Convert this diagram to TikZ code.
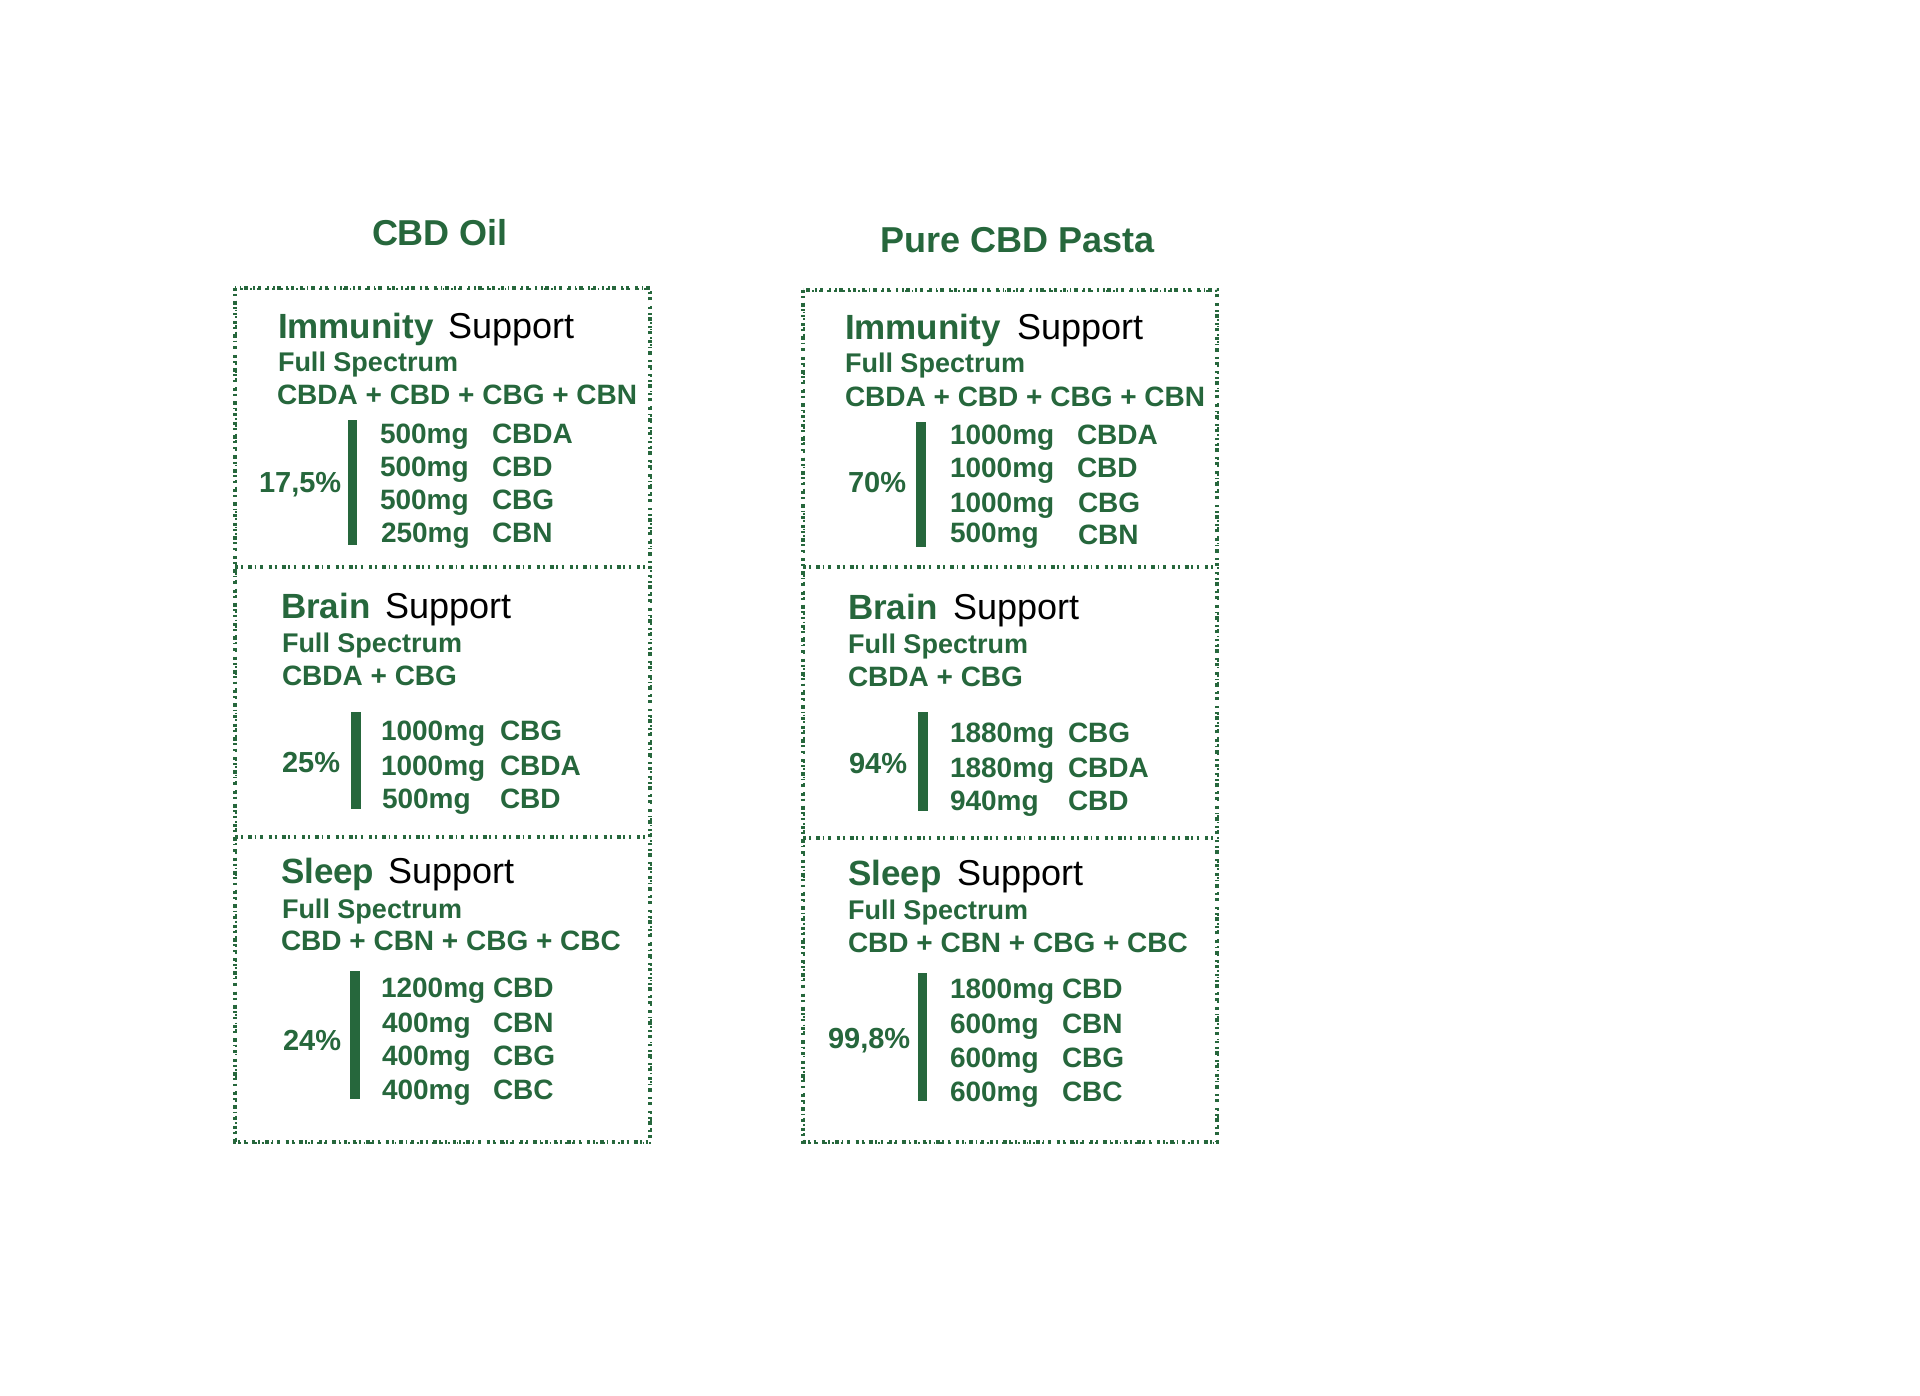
\documentclass[tikz,border=0pt]{standalone}
\usepackage{fontspec}
\setmainfont{Liberation Sans}
\definecolor{leaf}{RGB}{38,103,60}
\tikzset{
  x=1pt, y=-1pt,
  txt/.style={inner sep=0pt, outer sep=0pt, anchor=base west},
  ttl/.style={inner sep=0pt, anchor=base, text=leaf, font=\fontsize{36}{40}\selectfont\bfseries},
  head/.style={txt, text=leaf, font=\fontsize{35}{40}\selectfont\bfseries},
  sup/.style={txt, text=black, font=\fontsize{36}{40}\selectfont},
  fs/.style={txt, text=leaf, font=\fontsize{27}{30}\selectfont\bfseries},
  combo/.style={txt, text=leaf, font=\fontsize{28}{30}\selectfont\bfseries},
  pct/.style={txt, text=leaf, font=\fontsize{29}{30}\selectfont\bfseries},
  row/.style={txt, text=leaf, font=\fontsize{28}{30}\selectfont\bfseries},
  bar/.style={fill=leaf, draw=none},
  speckA/.style={draw=leaf, line width=3.2pt, dash pattern=on 3pt off 3pt on 2pt off 5pt on 4pt off 2.5pt on 1.5pt off 4pt on 2.5pt off 6pt},
  speckB/.style={draw=leaf, line width=2pt, dash pattern=on 2pt off 7pt on 1.5pt off 5pt, dash phase=4pt},
}
\begin{document}
\begin{tikzpicture}
\useasboundingbox[fill=white] (0,0) rectangle (1920,1396);

% titles
\node[ttl] (t1) at (440,246) {CBD Oil};
\node[ttl] (t2) at (1018,253) {Pure CBD Pasta};

% borders
\path[speckA] (235,288) rectangle (650,1142);
\path[speckA] (235,567) -- (650,567);
\path[speckA] (235,837) -- (650,837);
\path[speckA] (803,290) rectangle (1217,1142);
\path[speckA] (803,567) -- (1217,567);
\path[speckA] (803,838) -- (1217,838);
\begin{scope}[shift={(1.2,1.2)}]
\path[speckB] (235,288) rectangle (650,1142);
\path[speckB] (803,290) rectangle (1217,1142);
\end{scope}

% ===== Left column =====
% Immunity
\node[head] (l1h) at (278,339) {Immunity};
\node[sup]  (l1s) at (448,339) {Support};
\node[fs]   (l1f) at (278,372) {Full Spectrum};
\node[combo](l1c) at (277,405) {CBDA + CBD + CBG + CBN};
\fill[bar] (348,420) rectangle (357,545);
\node[pct]  (l1p) at (259,492) {17,5\%};
\node[row] (l1a1) at (380,443) {500mg};  \node[row] (l1n1) at (492,443) {CBDA};
\node[row] (l1a2) at (380,476) {500mg};  \node[row] (l1n2) at (492,476) {CBD};
\node[row] (l1a3) at (380,509) {500mg};  \node[row] (l1n3) at (492,509) {CBG};
\node[row] (l1a4) at (381,542) {250mg};  \node[row] (l1n4) at (492,542) {CBN};

% Brain
\node[head] (l2h) at (281,618) {Brain};
\node[sup]  (l2s) at (385,618) {Support};
\node[fs]   (l2f) at (282,652) {Full Spectrum};
\node[combo](l2c) at (282,685) {CBDA + CBG};
\fill[bar] (351,712) rectangle (361,809);
\node[pct]  (l2p) at (282,772) {25\%};
\node[row] (l2a1) at (381,740) {1000mg}; \node[row] (l2n1) at (500,740) {CBG};
\node[row] (l2a2) at (381,775) {1000mg}; \node[row] (l2n2) at (500,775) {CBDA};
\node[row] (l2a3) at (382,808) {500mg};  \node[row] (l2n3) at (500,808) {CBD};

% Sleep
\node[head] (l3h) at (281,883) {Sleep};
\node[sup]  (l3s) at (388,883) {Support};
\node[fs]   (l3f) at (282,918) {Full Spectrum};
\node[combo](l3c) at (281,950) {CBD + CBN + CBG + CBC};
\fill[bar] (350,971) rectangle (360,1099);
\node[pct]  (l3p) at (283,1050) {24\%};
\node[row] (l3a1) at (381,997)  {1200mg}; \node[row] (l3n1) at (493,997)  {CBD};
\node[row] (l3a2) at (382,1032) {400mg};  \node[row] (l3n2) at (493,1032) {CBN};
\node[row] (l3a3) at (382,1065) {400mg};  \node[row] (l3n3) at (493,1065) {CBG};
\node[row] (l3a4) at (382,1099) {400mg};  \node[row] (l3n4) at (493,1099) {CBC};

% ===== Right column =====
% Immunity
\node[head] (r1h) at (845,340) {Immunity};
\node[sup]  (r1s) at (1017,340) {Support};
\node[fs]   (r1f) at (845,373) {Full Spectrum};
\node[combo](r1c) at (845,407) {CBDA + CBD + CBG + CBN};
\fill[bar] (916,422) rectangle (926,547);
\node[pct]  (r1p) at (848,492) {70\%};
\node[row] (r1a1) at (950,445) {1000mg}; \node[row] (r1n1) at (1077,445) {CBDA};
\node[row] (r1a2) at (950,477) {1000mg}; \node[row] (r1n2) at (1077,477) {CBD};
\node[row] (r1a3) at (950,512) {1000mg}; \node[row] (r1n3) at (1078,512) {CBG};
\node[row] (r1a4) at (950,542) {500mg};  \node[row] (r1n4) at (1078,544) {CBN};

% Brain
\node[head] (r2h) at (848,619) {Brain};
\node[sup]  (r2s) at (953,619) {Support};
\node[fs]   (r2f) at (848,653) {Full Spectrum};
\node[combo](r2c) at (848,686) {CBDA + CBG};
\fill[bar] (918,712) rectangle (928,811);
\node[pct]  (r2p) at (849,773) {94\%};
\node[row] (r2a1) at (950,742) {1880mg}; \node[row] (r2n1) at (1068,742) {CBG};
\node[row] (r2a2) at (950,777) {1880mg}; \node[row] (r2n2) at (1068,777) {CBDA};
\node[row] (r2a3) at (950,810) {940mg};  \node[row] (r2n3) at (1068,810) {CBD};

% Sleep
\node[head] (r3h) at (848,885) {Sleep};
\node[sup]  (r3s) at (957,885) {Support};
\node[fs]   (r3f) at (848,919) {Full Spectrum};
\node[combo](r3c) at (848,952) {CBD + CBN + CBG + CBC};
\fill[bar] (918,973) rectangle (927,1101);
\node[pct]  (r3p) at (828,1048) {99,8\%};
\node[row] (r3a1) at (950,998)  {1800mg}; \node[row] (r3n1) at (1062,998)  {CBD};
\node[row] (r3a2) at (950,1033) {600mg};  \node[row] (r3n2) at (1062,1033) {CBN};
\node[row] (r3a3) at (950,1067) {600mg};  \node[row] (r3n3) at (1062,1067) {CBG};
\node[row] (r3a4) at (950,1101) {600mg};  \node[row] (r3n4) at (1062,1101) {CBC};
\end{tikzpicture}
\end{document}
